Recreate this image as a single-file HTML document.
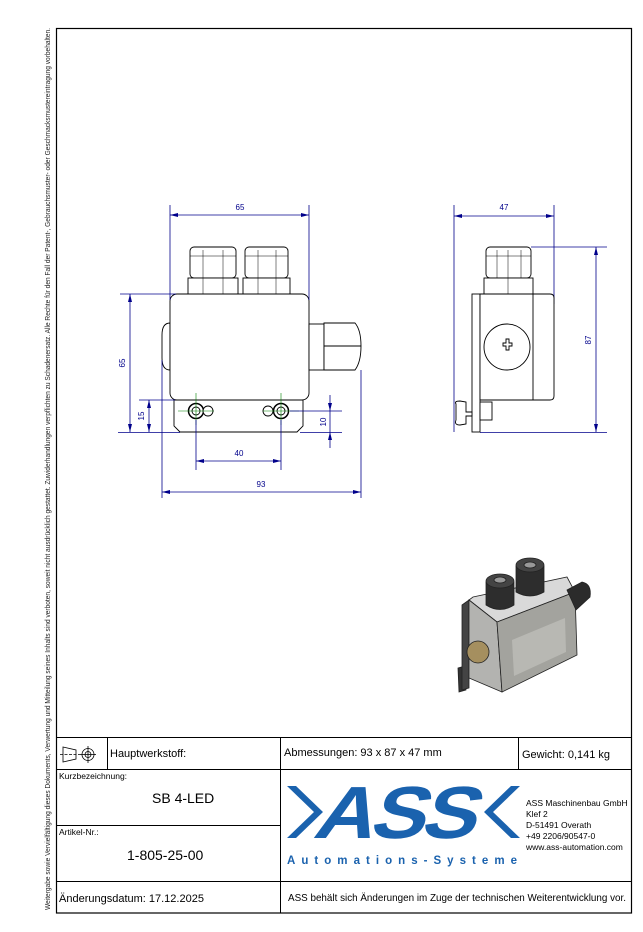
<!DOCTYPE html>
<html><head><meta charset="utf-8"><style>
html,body{margin:0;padding:0;background:#fff}
svg{display:block}
</style></head><body>
<svg width="643" height="932" viewBox="0 0 643 932" xmlns="http://www.w3.org/2000/svg" font-family="Liberation Sans, sans-serif">
<rect width="643" height="932" fill="#fff"/>
<text transform="translate(50,910) rotate(-90)" font-size="7" fill="#222" textLength="882" lengthAdjust="spacingAndGlyphs">Weitergabe sowie Vervielfältigung dieses Dokuments, Verwertung und Mitteilung seines Inhalts sind verboten, soweit nicht ausdrücklich gestattet. Zuwiderhandlungen verpflichten zu Schadenersatz. Alle Rechte für den Fall der Patent-, Gebrauchsmuster- oder Geschmacksmustereintragung vorbehalten.</text>
<rect x="56.5" y="28.5" width="575" height="884.5" fill="none" stroke="#000" stroke-width="1.2"/>
<g stroke="#000" stroke-width="1" fill="none">
<line x1="56" y1="737.5" x2="632" y2="737.5"/>
<line x1="56" y1="769.5" x2="632" y2="769.5"/>
<line x1="56" y1="825.5" x2="280" y2="825.5"/>
<line x1="56" y1="881.5" x2="632" y2="881.5"/>
<line x1="280.5" y1="737" x2="280.5" y2="913"/>
<line x1="107.5" y1="737" x2="107.5" y2="769"/>
<line x1="518.5" y1="737" x2="518.5" y2="769"/>
</g>
<g stroke="#000" stroke-width="0.8" fill="none">
<path d="M63 747 L76 750 L76 759 L63 762 Z"/>
<line x1="60" y1="754.5" x2="80" y2="754.5" stroke-dasharray="3,1.5"/>
<circle cx="88" cy="754.5" r="6"/><circle cx="88" cy="754.5" r="3"/>
<line x1="80" y1="754.5" x2="96" y2="754.5"/><line x1="88" y1="746" x2="88" y2="763"/>
</g>
<g font-size="11" fill="#000">
<text x="110" y="757">Hauptwerkstoff:</text>
<text x="284" y="756">Abmessungen: 93 x 87 x 47 mm</text>
<text x="522" y="758">Gewicht: 0,141 kg</text>
<text x="59" y="779" font-size="8.5">Kurzbezeichnung:</text>
<text x="152" y="803" font-size="14">SB 4-LED</text>
<text x="59" y="835" font-size="8.5">Artikel-Nr.:</text>
<text x="127" y="860" font-size="14">1-805-25-00</text>
<text x="59" y="902">Änderungsdatum: 17.12.2025</text>
<text x="288" y="901" font-size="10" textLength="338" lengthAdjust="spacingAndGlyphs">ASS behält sich Änderungen im Zuge der technischen Weiterentwicklung vor.</text>
<g font-size="8.5"><text x="526" y="806">ASS Maschinenbau GmbH</text><text x="526" y="817">Klef 2</text><text x="526" y="828">D-51491 Overath</text><text x="526" y="839">+49 2206/90547-0</text><text x="526" y="850">www.ass-automation.com</text></g>
</g>
<g fill="#1a62ae">
<polygon points="287,786 296,786 323,812 296,838 287,838 314,812"/>
<polygon points="520,786 511,786 484,812 511,838 520,838 493,812"/>
<text x="0" y="838" transform="translate(584,0) skewX(-18)" font-size="74" font-weight="bold" textLength="158" lengthAdjust="spacingAndGlyphs" style="letter-spacing:-4px">ASS</text>
<text x="287" y="864" font-size="11.5" font-weight="bold" textLength="230" lengthAdjust="spacing">Automations-Systeme</text>
</g>
<!-- FRONT VIEW -->
<g stroke="#000" stroke-width="0.9" fill="#fff">
<path d="M162 335 Q162 323 170 323 L170 370 Q162 370 162 358 Z"/>
<rect x="190" y="247" width="46" height="31" rx="4"/>
<rect x="188" y="278" width="50" height="16"/>
<rect x="245" y="247" width="43" height="31" rx="4"/>
<rect x="243" y="278" width="47" height="16"/>
<rect x="170" y="294" width="139" height="106" rx="7"/>
<path d="M174 400 L303 400 L303 426 L297 432 L180 432 L174 426 Z"/>
<rect x="309" y="324" width="15" height="46"/>
<path d="M324 323 L355 323 Q361 330 361 346 Q361 362 355 370 L324 370 Z"/>
<line x1="324" y1="346" x2="361" y2="346"/>
<circle cx="196" cy="411" r="7.5" stroke-width="1.5"/><circle cx="196" cy="411" r="4"/>
<circle cx="281" cy="411" r="7.5" stroke-width="1.5"/><circle cx="281" cy="411" r="4"/>
<circle cx="208" cy="411" r="5"/><circle cx="268" cy="411" r="5"/>
</g>
<g stroke="#000" stroke-width="0.5" fill="none">
<line x1="203" y1="250" x2="203" y2="294"/><line x1="223" y1="250" x2="223" y2="294"/>
<line x1="258" y1="250" x2="258" y2="294"/><line x1="276" y1="250" x2="276" y2="294"/>
<line x1="190" y1="256" x2="236" y2="256"/><line x1="245" y1="256" x2="288" y2="256"/>
</g>
<g stroke="#008000" stroke-width="0.6">
<line x1="196" y1="393" x2="196" y2="425"/><line x1="178" y1="411" x2="214" y2="411"/>
<line x1="281" y1="393" x2="281" y2="425"/><line x1="263" y1="411" x2="299" y2="411"/>
</g>
<g stroke="#00008b" stroke-width="0.8" fill="none">
<line x1="170" y1="205" x2="170" y2="300"/><line x1="309" y1="205" x2="309" y2="300"/><line x1="170" y1="215" x2="309" y2="215"/>
<line x1="120" y1="294" x2="176" y2="294"/><line x1="118" y1="432.5" x2="180" y2="432.5"/><line x1="130" y1="294" x2="130" y2="432"/>
<line x1="139" y1="400" x2="175" y2="400"/><line x1="149" y1="400" x2="149" y2="432"/>
<line x1="330" y1="395" x2="330" y2="448"/><line x1="290" y1="411" x2="342" y2="411"/><line x1="300" y1="432.5" x2="342" y2="432.5"/>
<line x1="196" y1="420" x2="196" y2="470"/><line x1="281" y1="420" x2="281" y2="470"/><line x1="196" y1="461" x2="281" y2="461"/>
<line x1="162" y1="360" x2="162" y2="498"/><line x1="361" y1="370" x2="361" y2="498"/><line x1="162" y1="492" x2="361" y2="492"/>
<line x1="454" y1="205" x2="454" y2="432"/><line x1="554" y1="205" x2="554" y2="304"/><line x1="454" y1="216" x2="554" y2="216"/>
<line x1="531" y1="247" x2="607" y2="247"/><line x1="480" y1="432.5" x2="607" y2="432.5"/><line x1="596" y1="247" x2="596" y2="432"/>
</g>
<g fill="#00008b">
<path d="M170 215 l8 -2 v4 Z M309 215 l-8 -2 v4 Z"/>
<path d="M130 294 l-2 8 h4 Z M130 432 l-2 -8 h4 Z"/>
<path d="M149 400 l-2 8 h4 Z M149 432 l-2 -8 h4 Z"/>
<path d="M330 411 l-2 -8 h4 Z M330 432 l-2 8 h4 Z"/>
<path d="M196 461 l8 -2 v4 Z M281 461 l-8 -2 v4 Z"/>
<path d="M162 492 l8 -2 v4 Z M361 492 l-8 -2 v4 Z"/>
<path d="M454 216 l8 -2 v4 Z M554 216 l-8 -2 v4 Z"/>
<path d="M596 247 l-2 8 h4 Z M596 432 l-2 -8 h4 Z"/>
</g>
<g font-size="8" fill="#00008b" text-anchor="middle">
<text x="240" y="210">65</text>
<text x="239" y="456">40</text>
<text x="261" y="487">93</text>
<text x="504" y="210">47</text>
<text transform="translate(125,363) rotate(-90)">65</text>
<text transform="translate(144,416) rotate(-90)">15</text>
<text transform="translate(326,422) rotate(-90)">10</text>
<text transform="translate(591,340) rotate(-90)">87</text>
</g>
<!-- SIDE VIEW -->
<g stroke="#000" stroke-width="0.9" fill="#fff">
<rect x="486" y="247" width="45" height="31" rx="4"/>
<rect x="484" y="278" width="49" height="16"/>
<rect x="472" y="294" width="8" height="138"/>
<path d="M480 294 L550 294 Q554 294 554 298 L554 396 Q554 400 550 400 L480 400 Z"/>
<line x1="533" y1="294" x2="533" y2="400"/>
<circle cx="507" cy="347" r="23"/>
<path d="M503 343 h3 v-4 h3 v4 h3 v3 h-3 v4 h-3 v-4 h-3 Z"/>
<rect x="480" y="402" width="12" height="18"/>
<path d="M456 404 Q454 401 460 401 L466 402 L466 412 L472 412 L472 416 L466 416 L466 424 L460 425 Q454 425 456 420 Z"/>
</g>
<g stroke="#000" stroke-width="0.5"><line x1="508" y1="250" x2="508" y2="294"/><line x1="497" y1="250" x2="497" y2="278"/><line x1="521" y1="250" x2="521" y2="278"/><line x1="486" y1="256" x2="531" y2="256"/></g>
<!-- 3D view -->
<g stroke="#222" stroke-width="0.8">
<path d="M458 668 L465 666 L466 690 L459 692 Z" fill="#333"/>
<path d="M462 605 L469 600 L469 688 L462 690 Z" fill="#444"/>
<path d="M469 600 L473 597 L567 577 L575 592 L497 622 Z" fill="#d9d9d9"/>
<path d="M469 600 L497 622 L502 692 L469 678 Z" fill="#b3b3b0"/>
<path d="M497 622 L575 592 L577 655 L502 692 Z" fill="#a3a39e"/>
<path d="M512 640 L565 618 L566 652 L514 676 Z" fill="#b8b8b3" stroke="none"/>
<circle cx="478" cy="652" r="11" fill="#a58f5f"/>
<path d="M567 590 L582 582 Q592 584 590 597 L576 610 Z" fill="#2b2b2b"/>
<path d="M486 582 L486 605 Q500 614 514 605 L514 582 Z" fill="#2d2d2d"/>
<ellipse cx="500" cy="581" rx="14" ry="7" fill="#444"/>
<path d="M516 566 L516 592 Q530 600 544 592 L544 566 Z" fill="#2d2d2d"/>
<ellipse cx="530" cy="565" rx="14" ry="7" fill="#444"/>
<ellipse cx="530" cy="565" rx="6" ry="3" fill="#999"/>
<ellipse cx="500" cy="580" rx="6" ry="3" fill="#999"/>
</g>
</svg>
</body></html>
